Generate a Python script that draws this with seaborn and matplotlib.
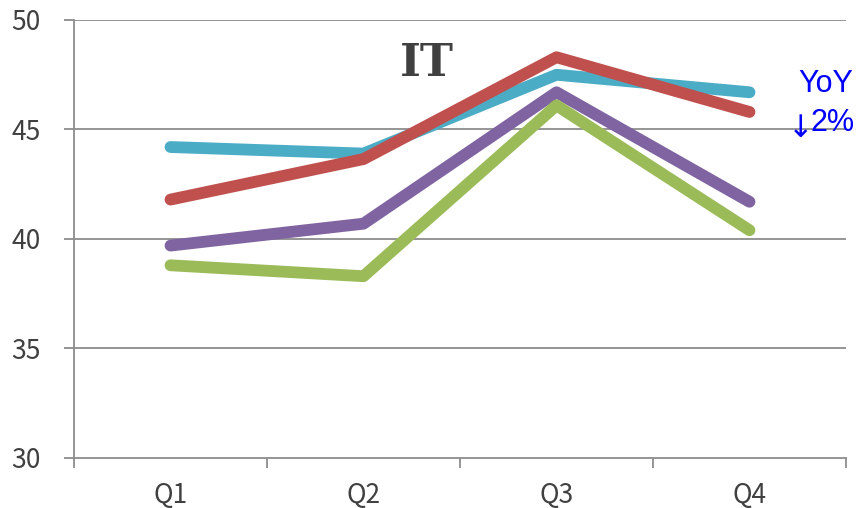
import matplotlib
matplotlib.use("Agg")
import matplotlib.pyplot as plt
import seaborn as sns
import pandas as pd
from matplotlib.ticker import FixedLocator

quarters = ["Q1", "Q2", "Q3", "Q4"]
series_names = ["A", "B", "C", "D"]
series_a = [44.2, 43.9, 47.5, 46.7]
series_b = [41.8, 43.65, 48.3, 45.8]
series_c = [39.7, 40.7, 46.7, 41.7]
series_d = [38.8, 38.3, 46.1, 40.4]
colors = ["#4BACC6", "#C0504D", "#8064A2", "#9BBB59"]
y_ticks = [30, 35, 40, 45, 50]

rows = []
for name, vals in zip(series_names, [series_a, series_b, series_c, series_d]):
    for i, (q, v) in enumerate(zip(quarters, vals)):
        rows.append({"pos": i, "quarter": q, "value": v, "series": name})
df = pd.DataFrame(rows)

sns.set_theme(style="white")
plt.rcParams["font.family"] = ["Noto Sans CJK KR", "DejaVu Sans"]

fig = plt.figure(figsize=(8.6, 5.08), dpi=100)
ax = fig.add_axes([74 / 860, 1 - 458 / 508, (846 - 74) / 860, (458 - 20) / 508])

sns.lineplot(data=df, x="pos", y="value", hue="series", palette=colors,
             linewidth=8.5, solid_capstyle="round", legend=False, ax=ax)

grid_c = "#8c8c8c"
ax.set_xlim(-0.5, 3.5)
ax.set_ylim(30, 50)
ax.set_yticks(y_ticks)
ax.set_yticklabels([str(t) for t in y_ticks])
for t in y_ticks[1:]:
    ax.axhline(t, color=grid_c, linewidth=1.3, zorder=0)

ax.set_xticks(range(len(quarters)))
ax.set_xticklabels(quarters)
ax.xaxis.set_minor_locator(FixedLocator([-0.5, 0.5, 1.5, 2.5, 3.5]))
ax.tick_params(axis="x", which="major", length=0, pad=17, labelsize=19, labelcolor="#404040")
ax.tick_params(axis="x", which="minor", length=7, width=1.3, color=grid_c, direction="out", bottom=True)
ax.tick_params(axis="y", which="major", length=7, width=1.3, color=grid_c, direction="out",
               left=True, pad=17, labelsize=19, labelcolor="#404040")

for side in ["top", "right"]:
    ax.spines[side].set_visible(False)
for side in ["left", "bottom"]:
    ax.spines[side].set_color(grid_c)
    ax.spines[side].set_linewidth(1.3)

ax.set_xlabel("")
ax.set_ylabel("")

ax.text(1.33, 48.0, "IT", ha="center", va="center", fontsize=32, fontweight="bold",
        family=["DejaVu Serif"], color="#404040")

# year-over-year note: label, arrow and percentage
note_c = "#0000FF"
ax.text(3.396, 47.1, "YoY", ha="center", va="center", fontsize=22,
        family=["Liberation Sans", "DejaVu Sans"], color=note_c, clip_on=False)
ax.text(3.262, 45.05, "\u2193", ha="center", va="center", fontsize=22,
        family=["DejaVu Sans"], color=note_c, clip_on=False)
ax.text(3.318, 45.3, "2%", ha="left", va="center", fontsize=22,
        family=["Liberation Sans", "DejaVu Sans"], color=note_c, clip_on=False)

fig.savefig("out.png", dpi=100)
